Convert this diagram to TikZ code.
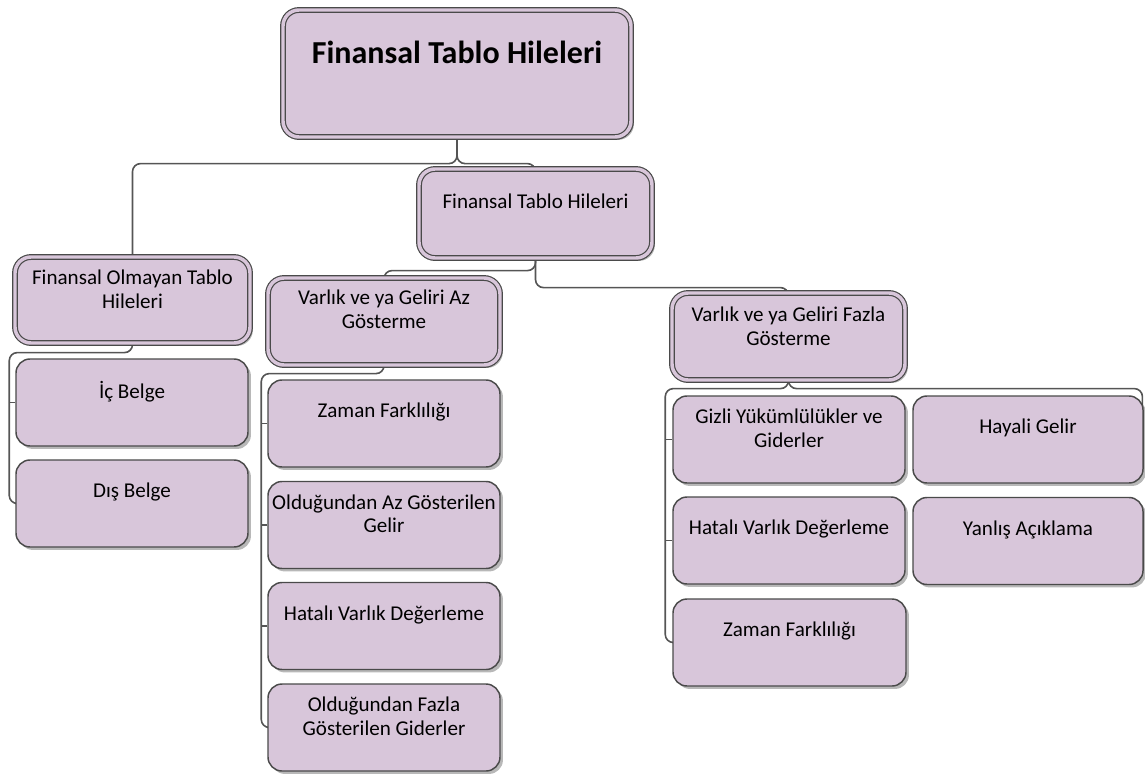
\documentclass[tikz,border=0pt]{standalone}
\usepackage{fontspec}
\setmainfont{Carlito}
\usetikzlibrary{shadows,backgrounds}
\definecolor{boxfill}{HTML}{D8C6DA}
\definecolor{boxline}{HTML}{4A4A4A}
\definecolor{connline}{HTML}{555555}
\tikzset{
  base/.style={rectangle, fill=boxfill, draw=boxline, inner sep=0pt,
    drop shadow={shadow xshift=2.2pt, shadow yshift=-2.2pt, opacity=0.28, fill=black}},
  leafbox/.style={base, line width=1.1pt, rounded corners=10.5pt, minimum width=174pt, minimum height=65.25pt},
  headbox/.style={base, line width=0.9pt, rounded corners=12pt, double=boxfill, double distance=2.6pt},
  txt/.style={align=center, font=\fontsize{15.8}{17.8}\selectfont, inner sep=0pt, text=black},
  conn/.style={draw=connline, line width=1.2pt, rounded corners=6pt},
}
\begin{document}
\begin{tikzpicture}[x=0.75pt,y=-0.75pt]
\useasboundingbox (0,0) rectangle (1145,775);

% header boxes
\node[headbox, minimum width=261pt, minimum height=95.25pt] (top) at (457,73.5) {};
\node[txt, font=\fontsize{24}{28}\selectfont\bfseries] (topt) at ([yshift=-32.25pt]top.north) {Finansal Tablo Hileleri};

\node[headbox, minimum width=174.75pt, minimum height=66.75pt] (b2) at (535.5,213.5) {};
\node[txt] (b2t) at ([yshift=-24.75pt]b2.north) {Finansal Tablo Hileleri};

\node[headbox, minimum width=176.25pt, minimum height=64.5pt] (fo) at (132.5,300) {};
\node[txt] (fot) at ([yshift=-24.75pt]fo.north) {Finansal Olmayan Tablo\\Hileleri};

\node[headbox, minimum width=174pt, minimum height=65.25pt] (vaz) at (384,321.5) {};
\node[txt] (vazt) at ([yshift=-24pt]vaz.north) {Varlık ve ya Geliri Az\\Gösterme};

\node[headbox, minimum width=174.75pt, minimum height=65.25pt] (vfz) at (788.5,336.5) {};
\node[txt] (vfzt) at ([yshift=-25.5pt]vfz.north) {Varlık ve ya Geliri Fazla\\Gösterme};

% leaves, left group
\node[leafbox] (ic) at (132,402.5) {};
\node[txt] (ict) at ([yshift=-24.75pt]ic.north) {İç Belge};
\node[leafbox] (dis) at (132,503.5) {};
\node[txt] (dist) at ([yshift=-24.75pt]dis.north) {Dış Belge};

% leaves, middle group
\node[leafbox] (zl) at (384,423.5) {};
\node[txt] (zlt) at ([yshift=-24.75pt]zl.north) {Zaman Farklılığı};
\node[leafbox] (oag) at (384,525) {};
\node[txt] (oagt) at ([yshift=-24.75pt]oag.north) {Olduğundan Az Gösterilen\\Gelir};
\node[leafbox] (hvl) at (384,626) {};
\node[txt] (hvlt) at ([yshift=-24.75pt]hvl.north) {Hatalı Varlık Değerleme};
\node[leafbox] (ofg) at (384,727.5) {};
\node[txt] (ofgt) at ([yshift=-24.75pt]ofg.north) {Olduğundan Fazla\\Gösterilen Giderler};

% leaves, right group
\node[leafbox] (giz) at (789,439.5) {};
\node[txt] (gizt) at ([yshift=-24.75pt]giz.north) {Gizli Yükümlülükler ve\\Giderler};
\node[leafbox, minimum width=172.5pt] (hay) at (1028,439.5) {};
\node[txt] (hayt) at ([yshift=-24.75pt]hay.north) {Hayali Gelir};
\node[leafbox] (hvr) at (789,540.5) {};
\node[txt] (hvrt) at ([yshift=-24.75pt]hvr.north) {Hatalı Varlık Değerleme};
\node[leafbox, minimum width=172.5pt] (yan) at (1028,541) {};
\node[txt] (yant) at ([yshift=-24.75pt]yan.north) {Yanlış Açıklama};
\node[leafbox, minimum width=174.75pt] (zr) at (789.5,642.5) {};
\node[txt] (zrt) at ([yshift=-24.75pt]zr.north) {Zaman Farklılığı};

\begin{pgfonlayer}{background}
  \draw[conn] (top.south) -- ++(0,26) -| (fo.north);
  \draw[conn] (top.south) -- ++(0,26) -| (b2.north);
  \draw[conn] (b2.south) -- ++(0,12) -| (vaz.north);
  \draw[conn] (b2.south) -- ++(0,29) -| (vfz.north);

  \draw[conn] (fo.south) -- ++(0,9) -| ([xshift=-4.5pt]dis.west) -- (dis.west);
  \draw[conn] (ic.west) -- ++(-6,0);

  \draw[conn] (vaz.south) -- ++(0,8) -| ([xshift=-4.5pt]ofg.west) -- (ofg.west);
  \draw[conn] (zl.west) -- ++(-6,0);
  \draw[conn] (oag.west) -- ++(-6,0);
  \draw[conn] (hvl.west) -- ++(-6,0);

  \draw[conn] (vfz.south) -- ++(0,8) -| ([xshift=-5.25pt]zr.west) -- (zr.west);
  \draw[conn] (giz.west) -- ++(-7,0);
  \draw[conn] (hvr.west) -- ++(-7,0);
  \draw[conn] (vfz.south) -- ++(0,8) -| ([shift={(-1pt,-10pt)}]hay.north east);
\end{pgfonlayer}
\end{tikzpicture}
\end{document}
